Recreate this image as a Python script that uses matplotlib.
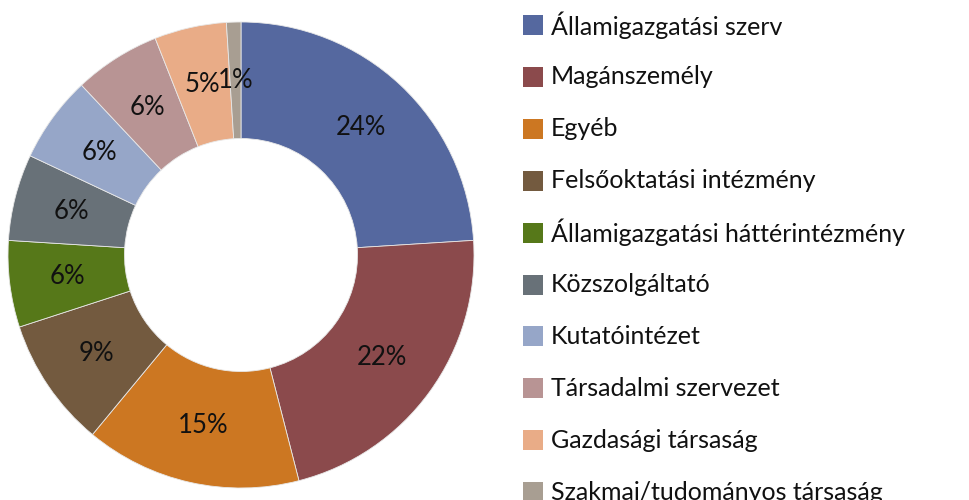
import matplotlib
matplotlib.use("Agg")
import matplotlib.pyplot as plt
from matplotlib.patches import Rectangle

categories = [
    "Államigazgatási szerv",
    "Magánszemély",
    "Egyéb",
    "Felsőoktatási intézmény",
    "Államigazgatási háttérintézmény",
    "Közszolgáltató",
    "Kutatóintézet",
    "Társadalmi szervezet",
    "Gazdasági társaság",
    "Szakmai/tudományos társaság",
]
values = [24, 22, 15, 9, 6, 6, 6, 6, 5, 1]
colors = ["#55689F", "#8B4A4C", "#CC7722", "#735A3F", "#567819",
          "#687178", "#96A6C8", "#B89494", "#E9AC87", "#A89E92"]

plt.rcParams['font.family'] = ['Lato', 'DejaVu Sans']

W, H = 970, 500
fig = plt.figure(figsize=(W / 100, H / 100), dpi=100)

cx, cy, R = 241, 245, 233
ax = fig.add_axes([(cx - R) / W, (cy - R) / H, 2 * R / W, 2 * R / H])
wedges, texts = ax.pie(
    values, colors=colors, startangle=90, counterclock=False,
    radius=1.0, labels=[f"{v}%" for v in values], labeldistance=0.75,
    wedgeprops=dict(width=0.5, edgecolor="#e8e8e8", linewidth=0.6),
    textprops=dict(fontsize=18.5, color="#111111", ha="center", va="center"),
)
ax.set_xlim(-1, 1)
ax.set_ylim(-1, 1)
ax.set_aspect("equal")
ax.axis("off")

# legend, drawn manually
y0 = 25
dy = 51.9
for i, (lab, col) in enumerate(zip(categories, colors)):
    yc = y0 + i * dy
    fig.patches.append(Rectangle((523 / W, 1 - (yc + 10) / H), 20 / W, 20 / H,
                                 transform=fig.transFigure, facecolor=col,
                                 edgecolor="none"))
    fig.text(551 / W, 1 - yc / H, lab, fontsize=18, color="#111111",
             ha="left", va="center")

fig.savefig("out.png", dpi=100)
